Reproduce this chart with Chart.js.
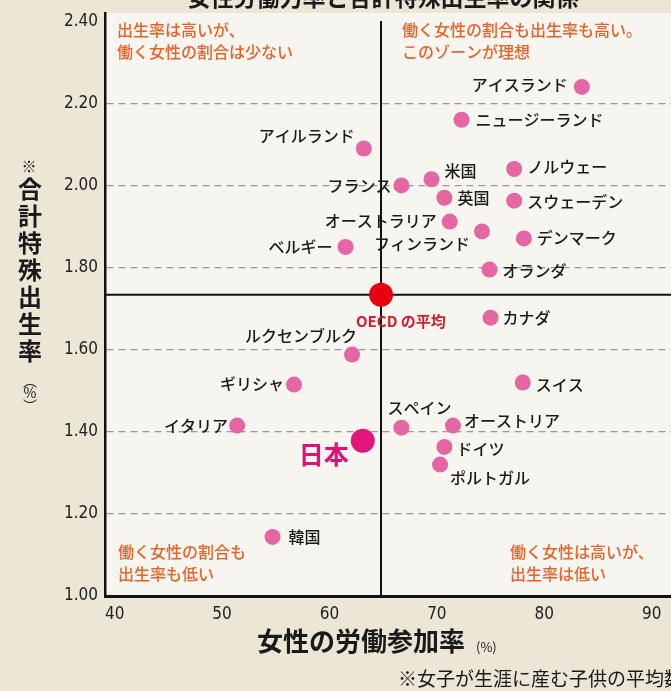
<!DOCTYPE html>
<html>
<head>
<meta charset="utf-8">
<script src="https://cdn.jsdelivr.net/npm/chart.js@4.4.1/dist/chart.umd.min.js"></script>
<style>
  html, body { margin: 0; padding: 0; background: #ece6d7; }
  #wrap { position: relative; width: 671px; height: 691px; overflow: hidden; }
</style>
</head>
<body>
<div id="wrap"><canvas id="myChart" width="671" height="691"></canvas></div>
<script>
// 女性の労働参加率(%) と 合計特殊出生率
const countries = ['アイスランド', 'ニュージーランド', 'アイルランド', '米国', 'ノルウェー', 'フランス', '英国',
  'スウェーデン', 'オーストラリア', 'フィンランド', 'ベルギー', 'デンマーク', 'オランダ', 'カナダ',
  'ルクセンブルク', 'ギリシャ', 'スイス', 'イタリア', 'スペイン', 'オーストリア', 'ドイツ', 'ポルトガル', '韓国'];
const participation = [83.5, 72.3, 63.2, 69.5, 77.2, 66.7, 70.7,
  77.2, 71.2, 74.2, 61.5, 78.1, 74.9, 75.0,
  62.1, 56.7, 78.0, 51.4, 66.7, 71.5, 70.7, 70.3, 54.7];
const fertility = [2.24, 2.16, 2.09, 2.015, 2.04, 2.00, 1.97,
  1.963, 1.912, 1.888, 1.85, 1.871, 1.795, 1.678,
  1.588, 1.515, 1.52, 1.415, 1.41, 1.415, 1.363, 1.32, 1.144];

const japanName = '日本';
const japanPoint = [63.1, 1.378];
const oecdName = 'OECD の平均';
const oecdPoint = [64.8, 1.734];

const xTicks = [40, 50, 60, 70, 80, 90];
const yTicks = [1.0, 1.2, 1.4, 1.6, 1.8, 2.0, 2.2, 2.4];

const chartTitle = '女性労働力率と合計特殊出生率の関係';
const xTitle = '女性の労働参加率';
const yTitle = ['※', '合', '計', '特', '殊', '出', '生', '率'];
const footnote = '※女子が生涯に産む子供の平均数';
const quadrantNotes = {
  topLeft: ['出生率は高いが、', '働く女性の割合は少ない'],
  topRight: ['働く女性の割合も出生率も高い。', 'このゾーンが理想'],
  bottomLeft: ['働く女性の割合も', '出生率も低い'],
  bottomRight: ['働く女性は高いが、', '出生率は低い']
};

// label placement (pixel offsets from the point) - style only
const labelPlace = {
  'アイスランド': ['right', -14, -2],
  'ニュージーランド': ['left', 14, 0],
  'アイルランド': ['right', -9, -13],
  '米国': ['left', 13, -8],
  'ノルウェー': ['left', 13, -2],
  'フランス': ['right', -10, 0],
  '英国': ['left', 13, 0],
  'スウェーデン': ['left', 13, 1],
  'オーストラリア': ['right', -13, -1],
  'フィンランド': ['right', -12, 13],
  'ベルギー': ['right', -13, 0],
  'デンマーク': ['left', 13, 0],
  'オランダ': ['left', 13, 1],
  'カナダ': ['left', 12, 0],
  'ルクセンブルク': ['right', 5, -19],
  'ギリシャ': ['right', -10, -1],
  'スイス': ['left', 13, 2],
  'イタリア': ['right', -9, 0],
  'スペイン': ['left', -14, -20],
  'オーストリア': ['left', 11, -5],
  'ドイツ': ['left', 12, 2],
  'ポルトガル': ['left', 10, 13],
  '韓国': ['left', 16, 0]
};

const JP = '"Noto Sans CJK JP", "Noto Sans", sans-serif';
const NUM = '"DejaVu Sans Condensed", "Liberation Sans", sans-serif';

const decorPlugin = {
  id: 'decor',
  beforeDraw(chart) {
    const ctx = chart.ctx;
    const a = chart.chartArea;
    ctx.save();
    ctx.fillStyle = '#ece6d7';
    ctx.fillRect(0, 0, chart.width, chart.height);
    ctx.fillStyle = '#f7f5ef';
    ctx.fillRect(a.left, a.top, a.right - a.left, a.bottom - a.top);
    ctx.restore();
  },
  beforeDatasetsDraw(chart) {
    const ctx = chart.ctx;
    const a = chart.chartArea;
    const xs = chart.scales.x, ys = chart.scales.y;
    const px = xs.getPixelForValue(oecdPoint[0]);
    const py = ys.getPixelForValue(oecdPoint[1]);
    ctx.save();
    ctx.strokeStyle = '#111';
    ctx.lineWidth = 2;
    ctx.beginPath();
    ctx.moveTo(px, a.top + 8);
    ctx.lineTo(px, a.bottom);
    ctx.moveTo(a.left, py);
    ctx.lineTo(a.right, py);
    ctx.stroke();

    // quadrant notes
    ctx.fillStyle = '#e8622a';
    ctx.font = '500 16px ' + JP;
    ctx.textBaseline = 'middle';
    ctx.textAlign = 'left';
    quadrantNotes.topLeft.forEach((t, i) => ctx.fillText(t, a.left + 12, a.top + 17 + i * 22));
    quadrantNotes.topRight.forEach((t, i) => ctx.fillText(t, px + 21, a.top + 17 + i * 22));
    quadrantNotes.bottomLeft.forEach((t, i) => ctx.fillText(t, a.left + 13, a.bottom - 44 + i * 22));
    quadrantNotes.bottomRight.forEach((t, i) => ctx.fillText(t, px + 129, a.bottom - 44 + i * 22));
    ctx.restore();
  },
  afterDatasetsDraw(chart) {
    const ctx = chart.ctx;
    const xs = chart.scales.x, ys = chart.scales.y;
    ctx.save();
    ctx.textBaseline = 'middle';
    ctx.fillStyle = '#1a1a1a';
    ctx.font = '500 16px ' + JP;
    countries.forEach((name, i) => {
      const p = labelPlace[name] || ['left', 12, 0];
      const x = xs.getPixelForValue(participation[i]);
      const y = ys.getPixelForValue(fertility[i]);
      ctx.textAlign = p[0];
      ctx.fillText(name, x + p[1], y + p[2]);
    });

    // Japan
    let x = xs.getPixelForValue(japanPoint[0]);
    let y = ys.getPixelForValue(japanPoint[1]);
    ctx.fillStyle = '#e0107a';
    ctx.font = 'bold 25px ' + JP;
    ctx.textAlign = 'right';
    ctx.fillText(japanName, x - 14, y + 14);

    // OECD
    x = xs.getPixelForValue(oecdPoint[0]);
    y = ys.getPixelForValue(oecdPoint[1]);
    ctx.fillStyle = '#d71a30';
    ctx.font = 'bold 15px ' + JP;
    ctx.textAlign = 'left';
    ctx.fillText(oecdName, x - 25, y + 27);
    ctx.restore();
  },
  afterDraw(chart) {
    const ctx = chart.ctx;
    ctx.save();
    ctx.fillStyle = '#1a1a1a';
    ctx.textBaseline = 'alphabetic';

    // title (cut at the top)
    ctx.font = 'bold 23px ' + JP;
    ctx.textAlign = 'center';
    ctx.fillText(chartTitle, 383, 6);

    // x title
    ctx.font = 'bold 26px ' + JP;
    ctx.textAlign = 'left';
    ctx.textBaseline = 'middle';
    ctx.fillText(xTitle, 257, 641);
    ctx.font = '13px ' + JP;
    ctx.fillText('(%)', 476, 647);

    // footnote
    ctx.font = '19px ' + JP;
    ctx.fillText(footnote, 398, 679);

    // y title, stacked vertically
    ctx.textAlign = 'center';
    yTitle.forEach((c, i) => {
      if (i === 0) {
        ctx.font = '15px ' + JP;
        ctx.fillText(c, 29, 166);
      } else {
        ctx.font = 'bold 24px ' + JP;
        ctx.fillText(c, 30, 189 + (i - 1) * 27);
      }
    });
    ctx.font = '14px ' + JP;
    ctx.fillText('︵', 30, 381);
    ctx.fillText('%', 30, 393);
    ctx.fillText('︶', 30, 406);
    ctx.restore();
  }
};

const ctx = document.getElementById('myChart').getContext('2d');
const myChart = new Chart(ctx, {
  type: 'scatter',
  data: {
    datasets: [
      {
        label: '各国',
        data: countries.map((c, i) => ({ x: participation[i], y: fertility[i] })),
        backgroundColor: '#e466a2',
        borderWidth: 0,
        pointRadius: 8,
        pointHoverRadius: 8
      },
      {
        label: japanName,
        data: [{ x: japanPoint[0], y: japanPoint[1] }],
        backgroundColor: '#e2157c',
        borderWidth: 0,
        pointRadius: 12,
        pointHoverRadius: 12
      },
      {
        label: oecdName,
        data: [{ x: oecdPoint[0], y: oecdPoint[1] }],
        backgroundColor: '#e60012',
        borderWidth: 0,
        pointRadius: 12,
        pointHoverRadius: 12
      }
    ]
  },
  options: {
    responsive: false,
    animation: false,
    events: [],
    layout: { autoPadding: false, padding: { top: 13, left: 0, right: 0, bottom: 0 } },
    plugins: {
      legend: { display: false },
      tooltip: { enabled: false },
      title: { display: false }
    },
    scales: {
      x: {
        type: 'linear',
        min: 39.1,
        max: 91.8,
        afterBuildTicks: (scale) => { scale.ticks = xTicks.map(v => ({ value: v })); },
        afterFit: (scale) => {
          scale.height = 95;
          scale.paddingLeft = 0;
          scale.paddingRight = 0;
        },
        grid: { display: false, drawTicks: false },
        border: { display: true, color: '#111', width: 3 },
        ticks: {
          color: '#222',
          padding: 8,
          font: { family: NUM, size: 17 },
          callback: (v) => v
        }
      },
      y: {
        type: 'linear',
        min: 1.0,
        max: 2.42,
        afterBuildTicks: (scale) => { scale.ticks = yTicks.map(v => ({ value: v })); },
        afterFit: (scale) => {
          scale.width = 105;
          scale.paddingTop = 0;
          scale.paddingBottom = 0;
        },
        grid: {
          drawTicks: false,
          color: (c) => (c.tick && c.tick.value > 1.05 && c.tick.value < 2.3) ? '#9a9a9a' : 'rgba(0,0,0,0)',
          lineWidth: 1.3
        },
        border: { display: true, color: '#111', width: 2.5, dash: [7, 5] },
        ticks: {
          color: '#222',
          padding: 7,
          font: { family: NUM, size: 17 },
          callback: (v) => Number(v).toFixed(2)
        }
      }
    }
  },
  plugins: [decorPlugin]
});
</script>
</body>
</html>
